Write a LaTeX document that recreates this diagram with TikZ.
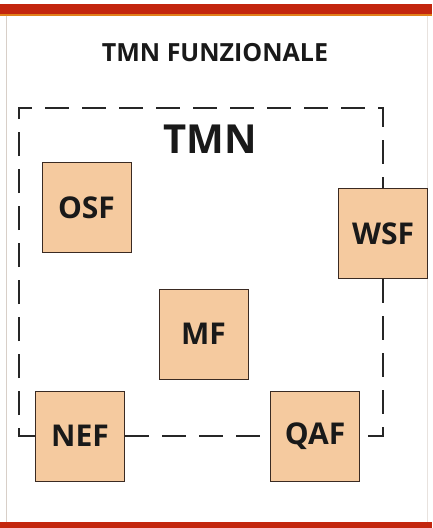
\documentclass[tikz,border=0pt]{standalone}
\usepackage{fontspec}
\setmainfont{Open Sans}
\definecolor{boxfill}{HTML}{F5CA9F}
\definecolor{boxline}{HTML}{3A2A22}
\definecolor{band}{HTML}{C3260E}
\definecolor{bandedge}{HTML}{E0801A}
\definecolor{edge}{HTML}{D8CFC8}
\begin{document}
\begin{tikzpicture}[x=1pt,y=-1pt,
  fbox/.style={draw=boxline,line width=1pt,fill=boxfill,minimum width=89pt,minimum height=90pt,inner sep=0pt,font=\fontsize{30}{32}\selectfont\bfseries,text=black!90},
  dashline/.style={draw=black!85,line width=1.8pt,dash pattern=on 24pt off 13pt}]
\useasboundingbox (0,0) rectangle (432,528);
\fill[white] (0,0) rectangle (432,528);
% bands
\fill[band] (0,4) rectangle (432,15);
\fill[bandedge] (0,14) rectangle (432,15.5);
\fill[band] (0,522) rectangle (432,528);
\draw[edge,line width=0.8pt] (6,15.5) -- (6,522);
\draw[edge!60,line width=0.8pt] (427,15.5) -- (427,522);
% title
\node[font=\fontsize{25}{27}\selectfont\bfseries,text=black!90] (title) at (215,53) {TMN FUNZIONALE};
\node[font=\fontsize{40}{42}\selectfont\bfseries,text=black!90] (tmn) at (210,139) {TMN};
% corner
\coordinate (tl) at (19,108);
% boxes
\node[fbox] (OSF) at (86.5,207.5) {OSF};
\node[fbox] (WSF) at (383,233.5) {WSF};
\node[fbox] (MF) at (203.5,334) {MF};
\node[fbox] (NEF) at (80,436) {NEF};
\node[fbox] (QAF) at (315,436) {QAF};
% dashed boundary
\path[dashline] (NEF.west) -| (tl) -| (WSF.north);
\path[dashline] (WSF.south) |- (QAF.east);
\path[dashline] (NEF.east) -- (QAF.west);
\end{tikzpicture}
\end{document}
